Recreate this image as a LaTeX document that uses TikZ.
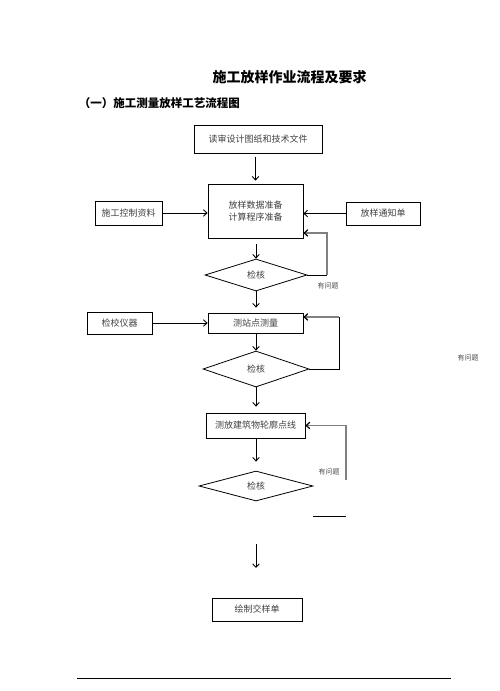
\documentclass[tikz,border=0pt]{standalone}
\usepackage{fontspec}
\setmainfont{Noto Sans CJK SC}
\usetikzlibrary{arrows.meta, shapes.geometric}

\begin{document}
\begin{tikzpicture}[x=1pt, y=-1pt,
  box/.style={draw, line width=0.8pt, inner sep=0pt, font=\fontsize{9}{12.5}\selectfont, text=black!75},
  check/.style={draw, diamond, line width=0.8pt, inner sep=0pt, font=\fontsize{9}{11}\selectfont, text=black!75},
  arr/.style={line width=0.9pt, -{Straight Barb[length=3.5pt, width=6.5pt]}},
  fb/.style={line width=1.2pt, black!50, -{Straight Barb[length=3.5pt, width=6.5pt, color=black]}},
  note/.style={font=\fontsize{7}{8}\selectfont, text=black!70}]
  \useasboundingbox (0,0) rectangle (499,691);

  \node[font=\fontsize{14}{17}\selectfont\bfseries] (title) at (289.5,77) {施工放样作业流程及要求};
  \node[font=\fontsize{11.5}{14}\selectfont\bfseries, anchor=east] (subtitle) at (243.5,103) {（一）施工测量放样工艺流程图};

  \node[box, minimum width=128pt, minimum height=28pt] (read) at (258,139) {读审设计图纸和技术文件};
  \node[box, minimum width=95pt, minimum height=54pt, align=center] (prep) at (255.5,211) {放样数据准备\\计算程序准备};
  \node[box, minimum width=67pt, minimum height=24pt] (ctrl) at (128.5,213) {施工控制资料};
  \node[box, minimum width=74pt, minimum height=23pt] (notice) at (383,213.5) {放样通知单};
  \node[check, minimum width=102pt, minimum height=32pt] (chk1) at (256,275) {检核};

  \node[box, minimum width=95pt, minimum height=20pt] (station) at (255.5,323) {测站点测量};
  \node[box, minimum width=65pt, minimum height=22pt] (calib) at (119.5,323) {检校仪器};
  \node[check, minimum width=106pt, minimum height=36pt] (chk2) at (256,369) {检核};

  \node[box, minimum width=99pt, minimum height=25pt] (outline) at (255.5,425.5) {测放建筑物轮廓点线};
  \node[check, minimum width=114pt, minimum height=30pt] (chk3) at (256,486) {检核};
  \node[box, minimum width=90pt, minimum height=23pt] (sheet) at (257,609.5) {绘制交样单};

  \node[note] (q1) at (328,286) {有问题};
  \node[note] (q2) at (468,358) {有问题};
  \node[note] (q3) at (329,472) {有问题};

  \draw[arr, shorten <=4pt, shorten >=3pt] (read.south -| prep.north) -- (prep.north);
  \draw[arr, shorten <=6pt] (prep.south -| chk1.north) -- (chk1.north);
  \draw[arr, shorten >=5pt] (chk1.south) -- (station.north -| chk1.south);
  \draw[arr] (station.south -| chk2.north) -- (chk2.north);
  \draw[arr, shorten >=6pt] (chk2.south) -- (outline.north -| chk2.south);
  \draw[arr, shorten >=9pt] (outline.south -| chk3.north) -- (chk3.north);

  \draw[arr] (ctrl.east) -- (prep.west |- ctrl.east);
  \draw[arr] (notice.west) -- (prep.east |- notice.west);
  \draw[arr] (calib.east) -- (station.west |- calib.east);

  \coordinate (fb1) at (327,233);
  \draw[line width=0.9pt] (chk1.east) -- (chk1.east -| fb1);
  \draw[fb] (chk1.east -| fb1) -- (fb1) -- (prep.east |- fb1);

  \coordinate (fb2) at (339,317);
  \draw[line width=0.9pt] (chk2.east) -- (chk2.east -| fb2) -- (fb2);
  \draw[fb] (fb2) -- (station.east |- fb2);

  \coordinate (fb3) at (346,480);
  \draw[fb] (fb3) -- (fb3 |- outline.east) -- (outline.east);

  \coordinate (gapA) at (256,544);
  \coordinate (gapB) at (256,568);
  \draw[arr] (gapA) -- (gapB);

  \coordinate (stubL) at (313,516);
  \coordinate (stubR) at (346,516);
  \draw[line width=0.8pt] (stubL) -- (stubR);

  \coordinate (ruleL) at (77,678);
  \coordinate (ruleR) at (451,678);
  \draw[line width=0.8pt] (ruleL) -- (ruleR);
\end{tikzpicture}
\end{document}
